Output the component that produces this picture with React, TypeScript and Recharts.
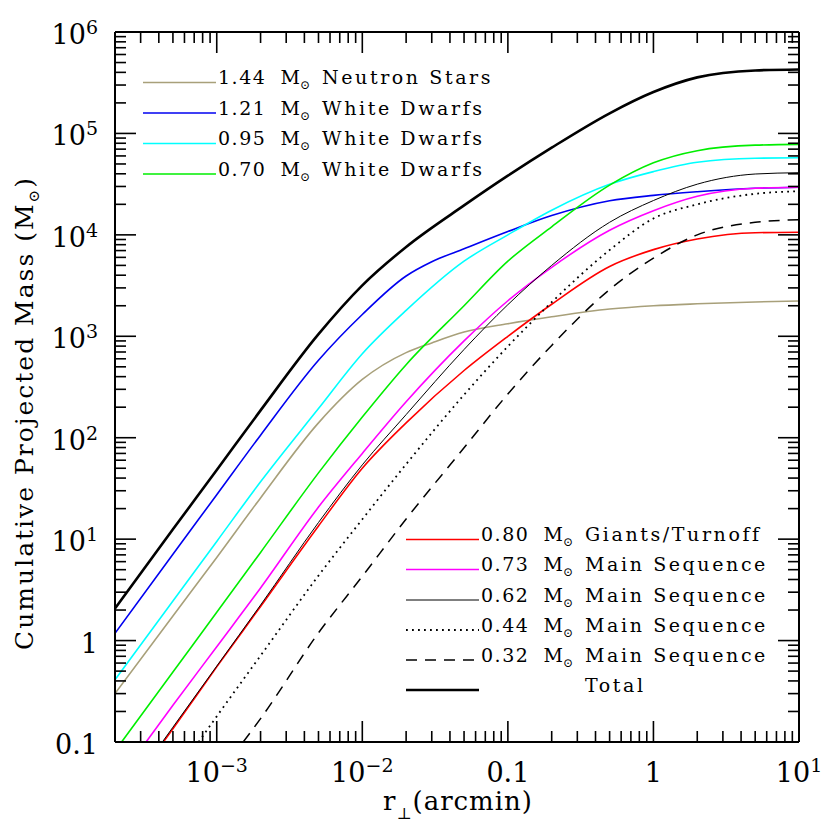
import React from 'react';
import { LineChart, Line, XAxis, YAxis } from 'recharts';

type Pt = [number, number];

// r_perp (arcmin) vs cumulative projected mass (Msun)
const ns144: Pt[] = [
  [2e-4, 0.3], [5e-4, 1.75], [1e-3, 6.6], [2e-3, 25.5], [5e-3, 140], [0.01, 375], [0.02, 690],
  [0.03, 860], [0.05, 1100], [0.1, 1330], [0.2, 1556], [0.5, 1855], [1, 2000], [2, 2090], [5, 2180], [10, 2230],
];
const wd121: Pt[] = [
  [2e-4, 1.18], [5e-4, 7.1], [1e-3, 27.4], [2e-3, 106], [5e-3, 580], [0.01, 1640], [0.02, 3930],
  [0.03, 5430], [0.05, 7300], [0.1, 10800], [0.2, 15500], [0.5, 21700], [1, 24500], [2, 26600], [5, 28800], [10, 29500],
];
const wd095: Pt[] = [
  [2e-4, 0.41], [5e-4, 2.45], [1e-3, 9.5], [2e-3, 36.8], [5e-3, 194], [0.01, 673], [0.02, 1800],
  [0.05, 5500], [0.1, 10000], [0.2, 17500], [0.5, 31500], [1, 42000], [2, 52000], [5, 57000], [10, 57500],
];
const wd070: Pt[] = [
  [2.22e-4, 0.1], [5e-4, 0.49], [1e-3, 1.9], [2e-3, 7.4], [5e-3, 45], [0.01, 160], [0.02, 525],
  [0.05, 2000], [0.1, 5500], [0.2, 12000], [0.5, 30900], [1, 51300], [2, 67600], [5, 76600], [10, 78000],
];
const giants080: Pt[] = [
  [4.3e-4, 0.1], [5e-4, 0.135], [1e-3, 0.55], [2e-3, 2.17], [5e-3, 13.5], [0.01, 50], [0.02, 140],
  [0.05, 460], [0.1, 1000], [0.2, 2070], [0.5, 4880], [1, 7150], [2, 9100], [5, 10500], [10, 10600],
];
const ms073: Pt[] = [
  [3.27e-4, 0.1], [5e-4, 0.23], [1e-3, 0.87], [2e-3, 3.3], [5e-3, 20.7], [0.01, 70], [0.02, 226],
  [0.05, 900], [0.1, 2240], [0.2, 4790], [0.5, 11100], [1, 17300], [2, 24000], [5, 28800], [10, 29500],
];
const ms062: Pt[] = [
  [4.23e-4, 0.1], [5e-4, 0.14], [1e-3, 0.56], [2e-3, 2.24], [5e-3, 14.6], [0.01, 54], [0.02, 169],
  [0.05, 741], [0.1, 2050], [0.2, 5000], [0.5, 13300], [1, 21800], [2, 31600], [5, 39800], [10, 41000],
];
const ms044: Pt[] = [
  [7.5e-4, 0.1], [1e-3, 0.179], [2e-3, 0.71], [5e-3, 4.37], [0.01, 15.7], [0.02, 54.8], [0.05, 265],
  [0.1, 795], [0.2, 2170], [0.5, 7080], [1, 14500], [2, 20000], [5, 25400], [10, 26900],
];
const ms032: Pt[] = [
  [1.52e-3, 0.1], [2e-3, 0.17], [5e-3, 1.19], [0.01, 4.3], [0.02, 15.8], [0.05, 79.5], [0.1, 270],
  [0.2, 813], [0.5, 2890], [1, 5900], [2, 10000], [5, 13300], [10, 14100],
];
const total: Pt[] = [
  [2e-4, 2.07], [5e-4, 12.5], [1e-3, 48], [2e-3, 186], [5e-3, 1050], [0.01, 3180], [0.02, 7600],
  [0.05, 19500], [0.1, 38300], [0.2, 72400], [0.5, 158000], [1, 256000], [2, 357000], [5, 418000], [10, 427000],
];

const xMajor = [1e-3, 1e-2, 0.1, 1, 10];
const xMajorLabels = [['10', '\u22123'], ['10', '\u22122'], ['0.1', ''], ['1', ''], ['10', '1']];
const yMajor = [0.1, 1, 10, 100, 1e3, 1e4, 1e5, 1e6];
const yMajorLabels = [['0.1', ''], ['1', ''], ['10', '1'], ['10', '2'], ['10', '3'], ['10', '4'], ['10', '5'], ['10', '6']];

const series = [
  { name: 'ns', mass: '1.44', kind: 'Neutron Stars', data: ns144, color: '#a8a07a', width: 1.6, dash: undefined },
  { name: 'wd121', mass: '1.21', kind: 'White Dwarfs', data: wd121, color: '#0000f0', width: 1.6, dash: undefined },
  { name: 'wd095', mass: '0.95', kind: 'White Dwarfs', data: wd095, color: '#00ffff', width: 1.6, dash: undefined },
  { name: 'wd070', mass: '0.70', kind: 'White Dwarfs', data: wd070, color: '#00ee00', width: 1.6, dash: undefined },
  { name: 'g080', mass: '0.80', kind: 'Giants/Turnoff', data: giants080, color: '#ff0000', width: 1.6, dash: undefined },
  { name: 'ms073', mass: '0.73', kind: 'Main Sequence', data: ms073, color: '#ff00ff', width: 1.6, dash: undefined },
  { name: 'ms062', mass: '0.62', kind: 'Main Sequence', data: ms062, color: '#000000', width: 1, dash: undefined },
  { name: 'ms044', mass: '0.44', kind: 'Main Sequence', data: ms044, color: '#000000', width: 1.8, dash: '1.8 4.2' },
  { name: 'ms032', mass: '0.32', kind: 'Main Sequence', data: ms032, color: '#000000', width: 1.5, dash: '11 8' },
  { name: 'total', mass: '', kind: 'Total', data: total, color: '#000000', width: 2.6, dash: undefined },
];

const FONT = '"DejaVu Serif", serif';

const decadesTicks = (decades: number[], lo: number, hi: number) => {
  const out: number[] = [];
  decades.forEach((d) => {
    for (let k = 1; k <= 9; k++) {
      const v = d * k;
      if (v > lo * 1.0001 && v < hi * 0.9999) out.push(v);
    }
  });
  return out;
};

const xTicks = [...decadesTicks([1e-4, 1e-3, 1e-2, 0.1, 1], 2e-4, 10), 10];
const yTicks = [0.1, ...decadesTicks([0.1, 1, 10, 100, 1e3, 1e4, 1e5], 0.1, 1e6), 1e6];

const majorIndex = (v: number, majors: number[]) =>
  majors.findIndex((m) => Math.abs(Math.log10(v) - Math.log10(m)) < 1e-6);

const TickLabel = ({ x, y, parts, anchor }: any) => (
  <text x={x} y={y} textAnchor={anchor} fontFamily={FONT} fontSize={27} fill="#000">
    <tspan>{parts[0]}</tspan>
    {parts[1] ? <tspan dy={-10} fontSize={19}>{parts[1]}</tspan> : null}
  </text>
);

const makeTick = (side: 'bottom' | 'top' | 'left' | 'right') => (props: any) => {
  const { x, y, payload } = props;
  const v = payload.value;
  const majors = side === 'bottom' || side === 'top' ? xMajor : yMajor;
  const idx = majorIndex(v, majors);
  const len = idx >= 0 ? 21 : 11;
  let line;
  if (side === 'bottom') line = <line x1={x} y1={y} x2={x} y2={y - len} />;
  else if (side === 'top') line = <line x1={x} y1={y} x2={x} y2={y + len} />;
  else if (side === 'left') line = <line x1={x} y1={y} x2={x + len} y2={y} />;
  else line = <line x1={x} y1={y} x2={x - len} y2={y} />;
  let label = null;
  if (idx >= 0 && side === 'bottom') {
    label = <TickLabel x={x} y={y + 40} parts={xMajorLabels[idx]} anchor="middle" />;
  } else if (idx >= 0 && side === 'left') {
    label = <TickLabel x={x - 17} y={y + 12} parts={yMajorLabels[idx]} anchor="end" />;
  }
  return (
    <g>
      <g stroke="#000" strokeWidth={1.6}>{line}</g>
      {label}
    </g>
  );
};

const LegendRow = ({ s, x0, y }: any) => (
  <g>
    <line x1={x0 - 75} x2={x0 - 2} y1={y} y2={y} stroke={s.color} strokeWidth={s.width} strokeDasharray={s.dash} />
    {s.mass ? (
      <>
        <text x={x0} y={y + 1.5} fontFamily={FONT} fontSize={19} letterSpacing={1.5}>{s.mass}</text>
        <text x={x0 + 62.5} y={y + 1.5} fontFamily={FONT} fontSize={19}>
          M<tspan dy={5} fontSize={12}>{'\u2299'}</tspan>
        </text>
      </>
    ) : null}
    <text x={x0 + 104} y={y + 1.5} fontFamily={FONT} fontSize={19} letterSpacing={2.6}>{s.kind}</text>
  </g>
);

export default function App() {
  const axisLine = { stroke: '#000', strokeWidth: 2 };
  const topRows = [82.5, 113, 143.5, 174];
  const bottomRows = [539.5, 569.5, 600, 630, 660, 690];
  return (
    <div style={{ position: 'absolute', left: 0, top: 0, width: 830, height: 830, background: '#fff' }}>
      <LineChart width={830} height={830} margin={{ top: 0, right: 0, bottom: 0, left: 0 }}>
        <XAxis
          xAxisId="b"
          dataKey="r"
          type="number"
          scale="log"
          domain={[2e-4, 10]}
          allowDataOverflow
          ticks={xTicks}
          interval={0}
          height={88}
          tickSize={0}
          tickMargin={0}
          tickLine={false}
          axisLine={axisLine}
          tick={makeTick('bottom')}
        />
        <XAxis
          xAxisId="t"
          orientation="top"
          dataKey="r"
          type="number"
          scale="log"
          domain={[2e-4, 10]}
          allowDataOverflow
          ticks={xTicks}
          interval={0}
          height={32}
          tickSize={0}
          tickMargin={0}
          tickLine={false}
          axisLine={axisLine}
          tick={makeTick('top')}
        />
        <YAxis
          yAxisId="l"
          dataKey="m"
          type="number"
          scale="log"
          domain={[0.1, 1e6]}
          allowDataOverflow
          ticks={yTicks}
          interval={0}
          width={115}
          tickSize={0}
          tickMargin={0}
          tickLine={false}
          axisLine={axisLine}
          tick={makeTick('left')}
        />
        <YAxis
          yAxisId="r"
          orientation="right"
          dataKey="m"
          type="number"
          scale="log"
          domain={[0.1, 1e6]}
          allowDataOverflow
          ticks={yTicks}
          interval={0}
          width={31}
          tickSize={0}
          tickMargin={0}
          tickLine={false}
          axisLine={axisLine}
          tick={makeTick('right')}
        />
        {series.map((s) => (
          <Line
            key={s.name}
            xAxisId="b"
            yAxisId="l"
            data={s.data.map(([r, m]) => ({ r, m }))}
            dataKey="m"
            type="monotone"
            stroke={s.color}
            strokeWidth={s.width}
            strokeDasharray={s.dash}
            dot={false}
            activeDot={false}
            isAnimationActive={false}
          />
        ))}
      </LineChart>
      <svg
        width={830}
        height={830}
        style={{ position: 'absolute', left: 0, top: 0, pointerEvents: 'none' }}
      >
        {series.slice(0, 4).map((s, i) => (
          <LegendRow key={s.name} s={s} x0={218} y={topRows[i]} />
        ))}
        {series.slice(4).map((s, i) => (
          <LegendRow key={s.name} s={s} x0={481} y={bottomRows[i]} />
        ))}
        <text
          transform="translate(33,413) rotate(-90)"
          textAnchor="middle"
          fontFamily={FONT}
          fontSize={25}
          letterSpacing={2}
        >
          Cumulative Projected Mass (M<tspan dy={6} fontSize={15}>{'\u2299'}</tspan>
          <tspan dy={-6}>)</tspan>
        </text>
        <text x={458} y={810} textAnchor="middle" fontFamily={FONT} fontSize={26} letterSpacing={1}>
          r<tspan dy={9} fontSize={16}>{'\u22a5'}</tspan>
          <tspan dy={-9}>(arcmin)</tspan>
        </text>
      </svg>
    </div>
  );
}
